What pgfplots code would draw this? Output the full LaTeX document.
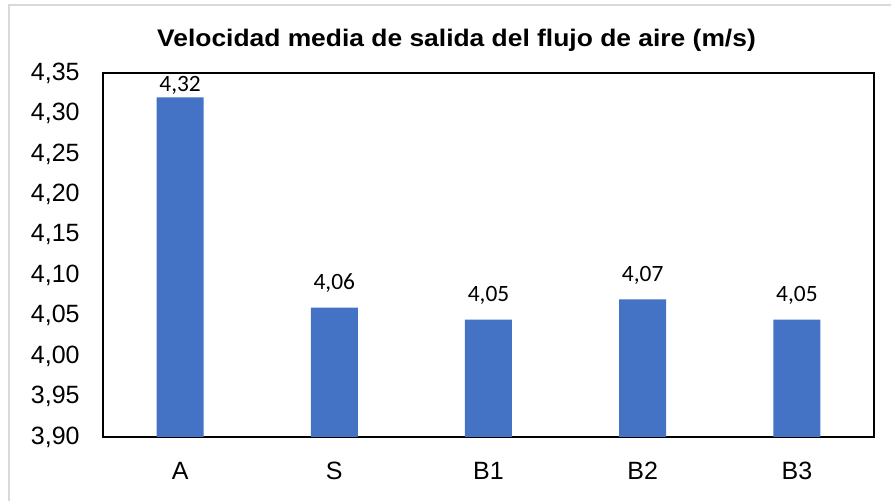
\documentclass[border=0pt]{standalone}
\usepackage{pgfplots}
\pgfplotsset{compat=1.18}
\usepackage{pgfplotstable}
\usepackage{fontspec}
\setmainfont{Liberation Sans}
\newfontfamily\calibri{Carlito}
\definecolor{barblue}{HTML}{4472C4}
\definecolor{bordergray}{HTML}{D9D9D9}
\pgfplotstableread{
x y off lab
0 4.32 3 4,32
1 4.06 9 4,06
2 4.045 9 4,05
3 4.07 9 4,07
4 4.045 9 4,05
}\datatable
\begin{document}
\begin{tikzpicture}
\path[use as bounding box] (0,0) rectangle (445.5pt,250.5pt);
\draw[bordergray, line width=0.8pt] (4.5pt,0) -- (4.5pt,248pt) -- (445.5pt,248pt);
\node[anchor=base, inner sep=0pt, font=\fontsize{12}{14}\selectfont\bfseries] at (228.25pt,227pt) {\scalebox{1.1}[1]{Velocidad media de salida del flujo de aire (m/s)}};
\begin{axis}[
  at={(51.5pt,32pt)}, anchor=south west,
  scale only axis, width=385.5pt, height=182pt,
  xmin=-0.5, xmax=4.5, ymin=3.9, ymax=4.35,
  ytick={3.90,3.95,...,4.36},
  xtick={0,1,2,3,4},
  xticklabels={A,S,B1,B2,B3},
  major tick length=0pt,
  axis line style={line width=0.9pt, black},
  /pgf/number format/assume math mode=true,
  /pgf/number format/.cd, fixed, fixed zerofill, precision=2, use comma, 1000 sep={},
  /pgfplots/.cd,
  tick label style={font=\fontsize{12.5}{14}\selectfont},
  yticklabel style={anchor=east, inner sep=0pt, xshift=-11.5pt},
  xticklabel style={anchor=north, inner sep=0pt, yshift=-12.5pt},
  ybar, bar width=23.5pt,
  visualization depends on={\thisrow{off}\as\off},
  point meta=explicit symbolic,
  nodes near coords={\pgfplotspointmeta},
  every node near coord/.append style={anchor=base, inner sep=0pt, yshift=\off pt, font=\calibri\fontsize{11.7}{13}\selectfont, black},
  clip=false,
]
\addplot[fill=barblue, draw=none, bar shift=0pt] table[x=x, y=y, meta=lab] {\datatable};
\end{axis}
\end{tikzpicture}
\end{document}
